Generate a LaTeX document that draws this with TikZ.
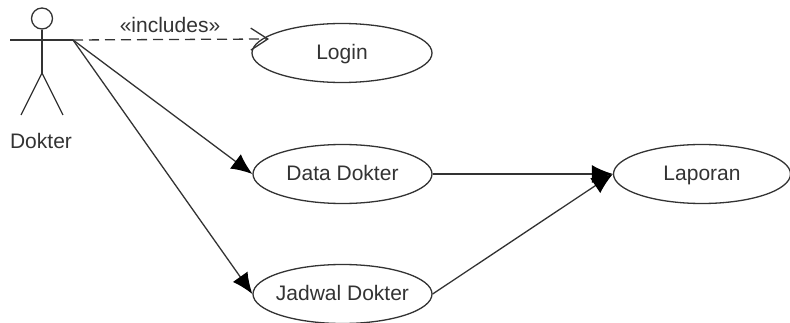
\documentclass[tikz,border=0pt]{standalone}
\usepackage{fontspec}
\setmainfont{Liberation Sans}
\usetikzlibrary{arrows.meta,shapes.geometric}
\definecolor{ink}{gray}{0.2}
\newcommand{\uctext}[1]{\raisebox{-7pt}[0pt][0pt]{\makebox[0pt][c]{#1}}}
\tikzset{
  line/.style={draw=ink,line width=1.3pt},
  usecase/.style={ellipse,draw=ink,line width=1.3pt,fill=white,inner sep=0pt,font=\fontsize{21}{24}\selectfont,text=ink},
  lbl/.style={inner sep=0pt,font=\fontsize{21}{24}\selectfont,text=ink},
  solidarrow/.style={line,-{Latex[length=21pt,width=18pt,color=black]}},
  deparrow/.style={line,dash pattern=on 10pt off 6pt,-{Straight Barb[length=17pt,width=22pt,line width=1.3pt,color=ink]}}
}
\begin{document}
\begin{tikzpicture}[x=1pt,y=-1pt]
\useasboundingbox (0,0) rectangle (790,323);
\node[usecase,minimum width=180pt,minimum height=59pt] (login) at (342,53) {\uctext{Login}};
\node[usecase,minimum width=179pt,minimum height=59pt] (data) at (342.5,174) {\uctext{Data Dokter}};
\node[usecase,minimum width=179pt,minimum height=59pt] (jadwal) at (342.5,294) {\uctext{Jadwal Dokter}};
\node[usecase,minimum width=177pt,minimum height=59pt] (laporan) at (702,174) {\uctext{Laporan}};
\node[circle,draw=ink,line width=1.3pt,minimum size=21pt,inner sep=0pt] (head) at (42,18.5) {};
\coordinate (hip) at (42,73);
\coordinate (armL) at (10,40);
\coordinate (armR) at (73,40);
\coordinate (footL) at (21,115);
\coordinate (footR) at (63,115);
\coordinate (loginEnd) at (269,39);
\draw[line] (head.south) -- (hip);
\draw[line] (armL) -- (armR);
\draw[line] (hip) -- (footL);
\draw[line] (hip) -- (footR);
\node[lbl] (dokter) at (41,141) {Dokter};
\node[lbl] (inc) at (170,25) {«includes»};
\draw[deparrow] (armR) -- (loginEnd);
\draw[solidarrow] (armR) -- (data.west);
\draw[solidarrow] (armR) -- (jadwal.west);
\draw[solidarrow] (data.east) -- (laporan.west);
\draw[solidarrow] (jadwal.east) -- (laporan.west);
\end{tikzpicture}
\end{document}
